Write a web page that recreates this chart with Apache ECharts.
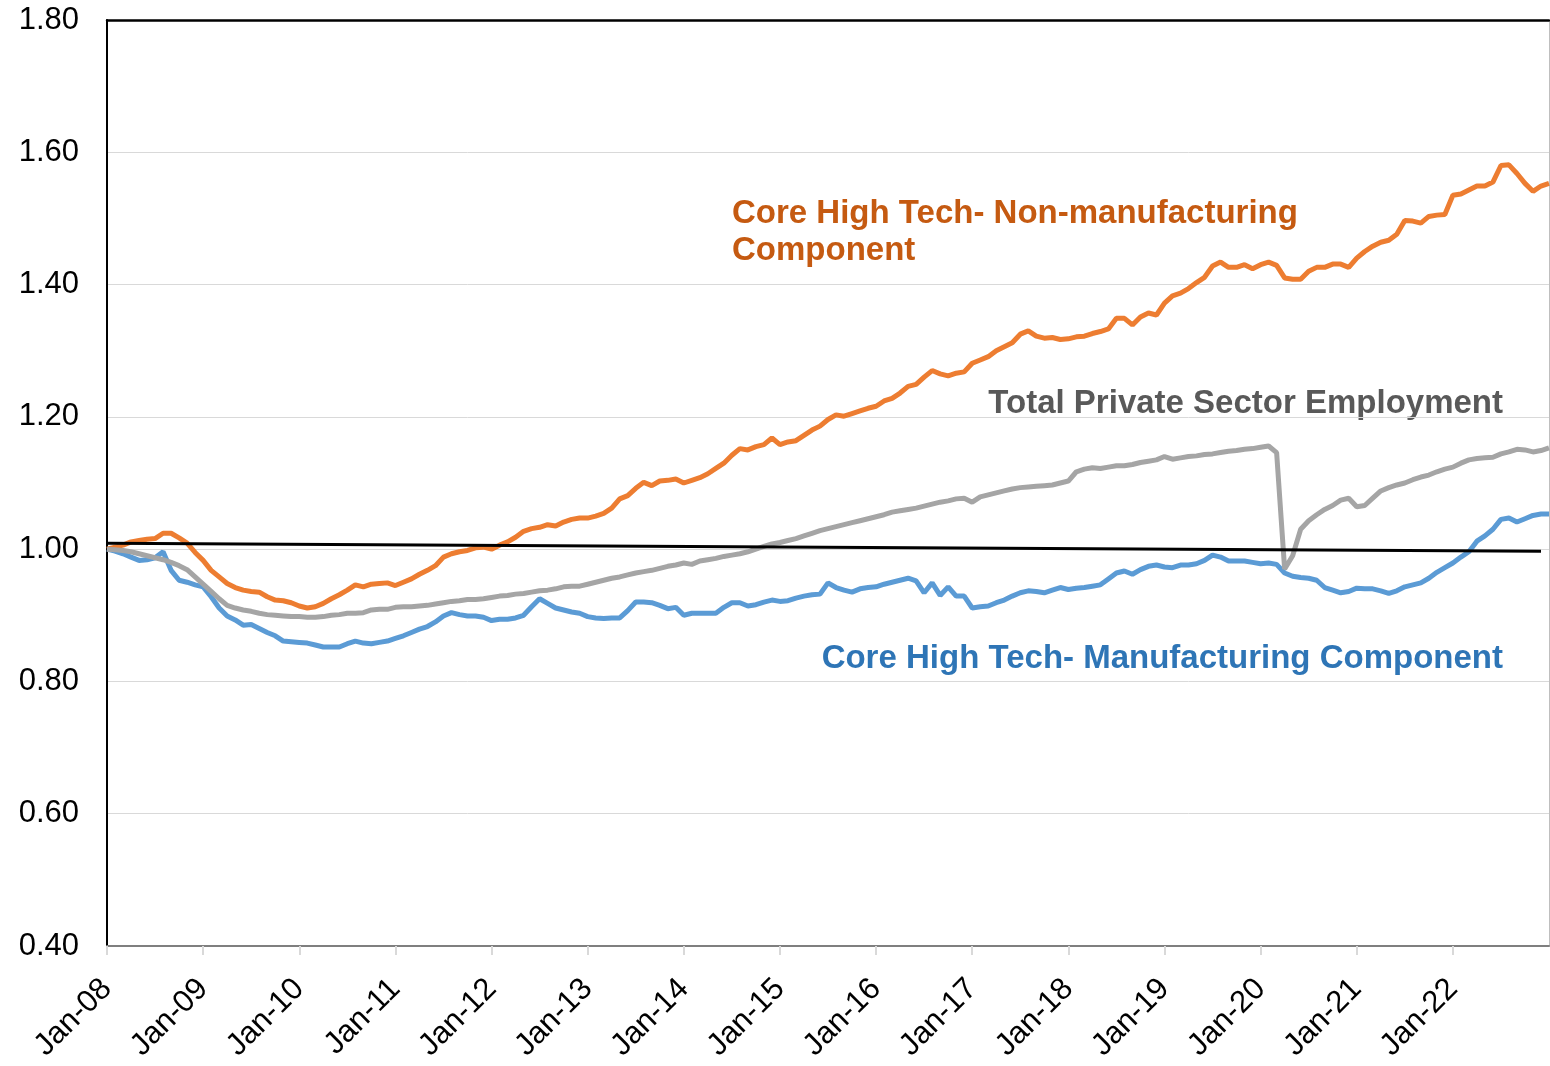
<!DOCTYPE html>
<html>
<head>
<meta charset="utf-8">
<title>Core High Tech Employment Index</title>
<script src="https://cdn.jsdelivr.net/npm/echarts@6/dist/echarts.min.js"></script>
<style>
  html, body { margin: 0; padding: 0; background: #fff; }
  #chart { width: 1550px; height: 1066px; }
</style>
</head>
<body>
<div id="chart"></div>
<script>
// monthly index, Jan-08 = 1.00
var monthNames = ['Jan', 'Feb', 'Mar', 'Apr', 'May', 'Jun', 'Jul', 'Aug', 'Sep', 'Oct', 'Nov', 'Dec'];
var firstYear = 2008;
var monthCount = 181; // Jan-08 .. Jan-23

var nonManufacturing = [
  1.000, 1.003, 1.006, 1.011, 1.013, 1.015, 1.016, 1.024, 1.024, 1.017,
  1.009, 0.995, 0.983, 0.968, 0.958, 0.948, 0.942, 0.938, 0.936, 0.935,
  0.928, 0.923, 0.922, 0.919, 0.914, 0.911, 0.913, 0.918, 0.925, 0.931,
  0.938, 0.946, 0.943, 0.947, 0.948, 0.949, 0.945, 0.950, 0.955, 0.962,
  0.968, 0.975, 0.988, 0.993, 0.996, 0.998, 1.002, 1.003, 1.000, 1.006,
  1.011, 1.018, 1.027, 1.031, 1.033, 1.037, 1.035, 1.041, 1.045, 1.047,
  1.047, 1.050, 1.054, 1.062, 1.076, 1.081, 1.092, 1.101, 1.096, 1.103,
  1.104, 1.106, 1.100, 1.104, 1.108, 1.114, 1.122, 1.130, 1.142, 1.152,
  1.150, 1.155, 1.158, 1.168, 1.158, 1.162, 1.164, 1.172, 1.180, 1.186,
  1.196, 1.203, 1.201, 1.205, 1.209, 1.213, 1.216, 1.224, 1.228, 1.236,
  1.246, 1.249, 1.260, 1.270, 1.265, 1.262, 1.266, 1.268, 1.281, 1.286,
  1.291, 1.300, 1.306, 1.312, 1.325, 1.330, 1.322, 1.319, 1.320, 1.317,
  1.318, 1.321, 1.322, 1.326, 1.329, 1.333, 1.349, 1.349, 1.339, 1.351,
  1.357, 1.354, 1.372, 1.383, 1.387, 1.394, 1.403, 1.411, 1.428, 1.434,
  1.426, 1.426, 1.430, 1.424, 1.430, 1.434, 1.429, 1.410, 1.408, 1.408,
  1.420, 1.426, 1.426, 1.431, 1.431, 1.426, 1.440, 1.450, 1.458, 1.464,
  1.467, 1.476, 1.497, 1.496, 1.493, 1.503, 1.505, 1.506, 1.535, 1.537,
  1.543, 1.549, 1.549, 1.555, 1.580, 1.581, 1.568, 1.553, 1.541, 1.549,
  1.553
];

var totalPrivate = [
  1.000, 0.999, 0.998, 0.996, 0.993, 0.990, 0.987, 0.984, 0.980, 0.975,
  0.969, 0.958, 0.947, 0.936, 0.925, 0.915, 0.911, 0.908, 0.906, 0.903,
  0.901, 0.900, 0.899, 0.898, 0.898, 0.897, 0.897, 0.898, 0.900, 0.901,
  0.903, 0.903, 0.904, 0.908, 0.909, 0.909, 0.912, 0.913, 0.913, 0.914,
  0.915, 0.917, 0.919, 0.921, 0.922, 0.924, 0.924, 0.925, 0.927, 0.929,
  0.930, 0.932, 0.933, 0.935, 0.937, 0.938, 0.940, 0.943, 0.944, 0.944,
  0.947, 0.950, 0.953, 0.956, 0.958, 0.961, 0.964, 0.966, 0.968, 0.971,
  0.974, 0.976, 0.979, 0.977, 0.982, 0.984, 0.986, 0.989, 0.991, 0.993,
  0.996, 1.000, 1.004, 1.008, 1.010, 1.013, 1.016, 1.020, 1.024, 1.028,
  1.031, 1.034, 1.037, 1.040, 1.043, 1.046, 1.049, 1.052, 1.056, 1.058,
  1.060, 1.062, 1.065, 1.068, 1.071, 1.073, 1.076, 1.077, 1.071, 1.079,
  1.082, 1.085, 1.088, 1.091, 1.093, 1.094, 1.095, 1.096, 1.097, 1.100,
  1.103, 1.117, 1.121, 1.123, 1.122, 1.124, 1.126, 1.126, 1.128, 1.131,
  1.133, 1.135, 1.140, 1.136, 1.138, 1.140, 1.141, 1.143, 1.144, 1.146,
  1.148, 1.149, 1.151, 1.152, 1.154, 1.156, 1.146, 0.970, 0.990, 1.030,
  1.043, 1.052, 1.060, 1.066, 1.074, 1.077, 1.064, 1.066, 1.077, 1.088,
  1.093, 1.097, 1.100, 1.105, 1.109, 1.112, 1.117, 1.121, 1.124, 1.130,
  1.135, 1.137, 1.138, 1.139, 1.144, 1.147, 1.151, 1.150, 1.147, 1.149,
  1.153
];

var manufacturing = [
  1.000, 0.997, 0.993, 0.988, 0.983, 0.984, 0.987, 0.996, 0.968, 0.953,
  0.950, 0.946, 0.943, 0.928, 0.911, 0.899, 0.893, 0.885, 0.886, 0.880,
  0.874, 0.869, 0.861, 0.860, 0.859, 0.858, 0.855, 0.852, 0.852, 0.852,
  0.857, 0.861, 0.858, 0.857, 0.859, 0.861, 0.865, 0.869, 0.874, 0.879,
  0.883, 0.890, 0.899, 0.904, 0.901, 0.899, 0.899, 0.897, 0.892, 0.894,
  0.894, 0.896, 0.900, 0.913, 0.925, 0.918, 0.911, 0.908, 0.905, 0.903,
  0.898, 0.896, 0.895, 0.896, 0.896, 0.907, 0.920, 0.920, 0.919, 0.915,
  0.910, 0.912, 0.900, 0.903, 0.903, 0.903, 0.903, 0.912, 0.919, 0.919,
  0.914, 0.916, 0.920, 0.923, 0.921, 0.922, 0.926, 0.929, 0.931, 0.932,
  0.949, 0.942, 0.938, 0.935, 0.940, 0.942, 0.943, 0.947, 0.950, 0.953,
  0.956, 0.952, 0.934, 0.949, 0.930, 0.943, 0.929, 0.929, 0.911, 0.913,
  0.914, 0.919, 0.923, 0.929, 0.934, 0.937, 0.936, 0.934, 0.938, 0.942,
  0.939, 0.941, 0.942, 0.944, 0.946, 0.955, 0.964, 0.967, 0.962, 0.969,
  0.974, 0.976, 0.973, 0.972, 0.976, 0.976, 0.978, 0.983, 0.991, 0.988,
  0.982, 0.982, 0.982, 0.980, 0.978, 0.979, 0.977, 0.964, 0.959, 0.957,
  0.956, 0.953, 0.942, 0.938, 0.934, 0.936, 0.941, 0.940, 0.940, 0.937,
  0.933, 0.937, 0.943, 0.946, 0.949, 0.956, 0.965, 0.972, 0.979, 0.988,
  0.996, 1.012, 1.020, 1.030, 1.045, 1.047, 1.041, 1.046, 1.051, 1.053,
  1.053
];

// hand drawn reference line, start and end values
var refLine = [1.009, 0.997];
var refLineEnd = 179;

var yMin = 0.4, yMax = 1.8, yStep = 0.2;

var categories = [];
for (var i = 0; i < monthCount; i++) {
  var yr = firstYear + Math.floor(i / 12);
  categories.push(monthNames[i % 12] + '-' + String(yr).slice(2));
}

var font = "'Liberation Sans', Arial, sans-serif";
var showYearTick = function (idx) {
  return idx % 12 === 0 && idx < monthCount - 1;
};

var chart = echarts.init(document.getElementById('chart'), null, { renderer: 'canvas' });

var option = {
  backgroundColor: '#fff',
  animation: false,
  grid: { left: 107, right: 1, top: 20, bottom: 120, containLabel: false },
  xAxis: [
    {
      type: 'category',
      data: categories,
      boundaryGap: false,
      axisLine: { lineStyle: { color: '#7f7f7f', width: 2 } },
      axisTick: { show: true, interval: showYearTick, length: 9, lineStyle: { color: '#d9d9d9', width: 2 } },
      axisLabel: {
        interval: showYearTick,
        rotate: 45,
        margin: 38,
        fontSize: 31,
        color: '#000',
        fontFamily: font
      },
      splitLine: { show: false }
    },
    {
      type: 'category',
      data: categories,
      boundaryGap: false,
      position: 'top',
      axisLine: { lineStyle: { color: '#000', width: 2.5 } },
      axisTick: { show: false },
      axisLabel: { show: false },
      splitLine: { show: false }
    }
  ],
  yAxis: [
    {
      type: 'value',
      min: yMin,
      max: yMax,
      interval: yStep,
      axisLine: { show: true, lineStyle: { color: '#000', width: 2 } },
      axisTick: { show: false },
      axisLabel: {
        margin: 28,
        fontSize: 31,
        color: '#000',
        fontFamily: font,
        formatter: function (v) { return v.toFixed(2); }
      },
      splitLine: { lineStyle: { color: '#d9d9d9', width: 1 } }
    },
    {
      type: 'value',
      min: yMin,
      max: yMax,
      interval: yStep,
      position: 'right',
      axisLine: { show: true, lineStyle: { color: '#bfbfbf', width: 1 } },
      axisTick: { show: false },
      axisLabel: { show: false },
      splitLine: { show: false }
    }
  ],
  series: [
    {
      name: 'Core High Tech- Manufacturing Component',
      type: 'line',
      data: manufacturing,
      symbol: 'none',
      lineStyle: { color: '#5b9bd5', width: 5 },
      z: 2
    },
    {
      name: 'Core High Tech- Non-manufacturing Component',
      type: 'line',
      data: nonManufacturing,
      symbol: 'none',
      lineStyle: { color: '#ed7d31', width: 5 },
      z: 3
    },
    {
      name: 'Total Private Sector Employment',
      type: 'line',
      data: totalPrivate,
      symbol: 'none',
      lineStyle: { color: '#a5a5a5', width: 5 },
      z: 4
    },
    {
      name: 'reference',
      type: 'line',
      data: [],
      z: 5,
      markLine: {
        silent: true,
        symbol: ['none', 'none'],
        label: { show: false },
        lineStyle: { color: '#000', width: 3, type: 'solid' },
        data: [[{ coord: [0, refLine[0]] }, { coord: [refLineEnd, refLine[1]] }]]
      }
    }
  ],
  graphic: [
    {
      type: 'text',
      x: 732,
      y: 232,
      style: {
        text: 'Core High Tech- Non-manufacturing\nComponent',
        font: 'bold 33px ' + font,
        lineHeight: 37,
        fill: '#c55a11',
        align: 'left',
        verticalAlign: 'middle'
      }
    },
    {
      type: 'text',
      x: 1503,
      y: 404,
      style: {
        text: 'Total Private Sector Employment',
        font: 'bold 33px ' + font,
        fill: '#595959',
        align: 'right',
        verticalAlign: 'middle'
      }
    },
    {
      type: 'text',
      x: 1503,
      y: 659,
      style: {
        text: 'Core High Tech- Manufacturing Component',
        font: 'bold 33px ' + font,
        fill: '#2e75b6',
        align: 'right',
        verticalAlign: 'middle'
      }
    }
  ]
};

chart.setOption(option);
</script>
</body>
</html>
